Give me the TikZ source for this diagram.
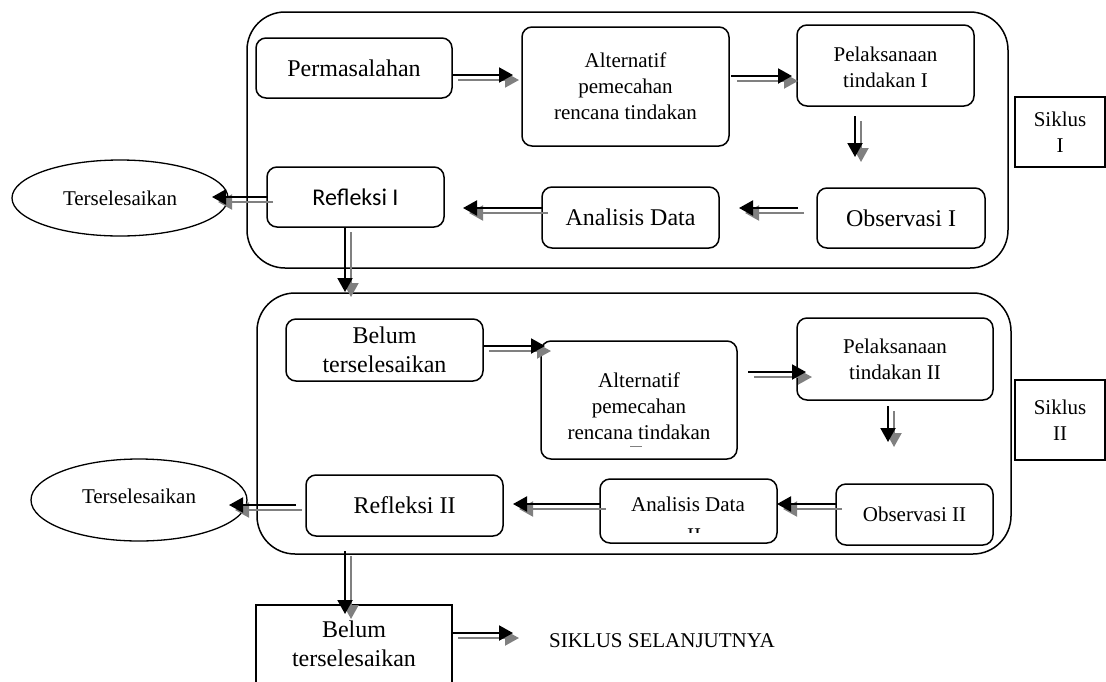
\documentclass[tikz,border=0pt]{standalone}
\usepackage{fontspec}
\setmainfont{Liberation Serif}
\newfontfamily\carl{Carlito}
\usetikzlibrary{arrows.meta,shapes.geometric}
\definecolor{shgray}{RGB}{128,128,128}
\newcommand{\dblarrow}[2]{%
  \draw[shd] ([shift={(6,5)}]#1) -- ([shift={(6,5)}]#2);
  \draw[blk] (#1) -- (#2);}
\begin{document}
\begin{tikzpicture}[x=1pt,y=-1pt,
  rbox/.style={draw, line width=1.5pt, rounded corners=10pt, align=center, inner sep=0pt},
  sbox/.style={draw, line width=1.4pt, align=center, inner sep=0pt},
  frm/.style={draw, line width=1.5pt, rounded corners=38pt},
  oval/.style={ellipse, draw, line width=1.3pt, inner sep=0pt},
  big/.style={font=\fontsize{24}{29}\selectfont},
  med/.style={font=\fontsize{21}{26}\selectfont},
  blk/.style={line width=2pt, -{Triangle[length=14pt,width=15pt]}},
  shd/.style={draw=shgray, line width=2pt, -{Triangle[length=14pt,width=15pt]}}]
\useasboundingbox (0,0) rectangle (1106,681);

% frames
\draw[frm] (247,12) rectangle (1008,268);
\draw[frm] (257,293) rectangle (1011,554);

% cycle I
\node[rbox,big,minimum width=196pt,minimum height=60pt] (perm) at (354,68) {Permasalahan};
\node[rbox,med,minimum width=207pt,minimum height=119pt] (alt1) at (625.5,86.5) {Alternatif\\pemecahan\\rencana tindakan};
\node[rbox,minimum width=177pt,minimum height=81pt] (pel1) at (885.5,65.5) {};
\node[med,align=center] (pel1t) at (885.5,67.5) {Pelaksanaan\\tindakan I};
\node[sbox,med,minimum width=90pt,minimum height=70pt] (sik1) at (1060,132) {Siklus\\I};
\node[rbox,big,minimum width=168pt,minimum height=60pt] (obs1) at (901,218) {Observasi I};
\node[rbox,big,minimum width=177pt,minimum height=61pt] (ana1) at (630.5,217.5) {Analisis Data};
\node[rbox,font=\carl\fontsize{24}{29}\selectfont,minimum width=177pt,minimum height=60pt] (ref1) at (355.5,197) {Refleksi I};
\node[oval,med,minimum width=216pt,minimum height=76pt] (ters1) at (120,198) {Terselesaikan};

% cycle II
\node[rbox,big,minimum width=197pt,minimum height=62pt] (bel1) at (384.5,350) {Belum\\terselesaikan};
\node[rbox,minimum width=196pt,minimum height=118pt] (alt2) at (639,400) {};
\node[med,align=center] (alt2t) at (639,406) {Alternatif\\pemecahan\\rencana tindakan};
\draw[shgray,line width=1pt] (630,446) -- (642,446);
\node[rbox,med,minimum width=196pt,minimum height=82pt] (pel2) at (895,359) {Pelaksanaan\\tindakan II};
\node[sbox,med,minimum width=90pt,minimum height=80pt] (sik2) at (1060,420) {Siklus\\II};
\node[rbox,med,minimum width=157pt,minimum height=61pt] (obs2) at (914.5,514.5) {Observasi II};
\node[rbox,minimum width=177pt,minimum height=64pt] (ana2) at (688.5,511) {};
\node[med] (ana2t) at (688,504) {Analisis Data};
\begin{scope}
  \clip (600,479) rectangle (777,532);
  \node[med,anchor=base] (ana2n) at (694,542) {II};
\end{scope}
\node[rbox,big,minimum width=197pt,minimum height=61pt] (ref2) at (404.5,505.5) {Refleksi II};
\node[oval,minimum width=216pt,minimum height=82pt] (ters2) at (139,500) {};
\node[med] (ters2t) at (139,496) {Terselesaikan};

% after
\node[sbox,minimum width=196pt,minimum height=95pt] (bel2) at (354,652.5) {};
\node[big,align=center] (bel2t) at (354,644) {Belum\\terselesaikan};
\node[med] (next) at (662,641) {SIKLUS SELANJUTNYA};

% arrow end points
\coordinate (a1s) at (452,75);  \coordinate (a1e) at (513,75);
\coordinate (a2s) at (731,76);  \coordinate (a2e) at (792,76);
\coordinate (a3s) at (855,116); \coordinate (a3e) at (855,157);
\coordinate (a4s) at (798,208); \coordinate (a4e) at (739,208);
\coordinate (a5s) at (542,208); \coordinate (a5e) at (463,208);
\coordinate (a6s) at (267,197); \coordinate (a6e) at (212,197);
\coordinate (a7s) at (345,227); \coordinate (a7e) at (345,292);
\coordinate (a8s) at (483,346); \coordinate (a8e) at (545,346);
\coordinate (a9s) at (748,372); \coordinate (a9e) at (806,372);
\coordinate (b1s) at (888,406); \coordinate (b1e) at (888,442);
\coordinate (b2s) at (836,504); \coordinate (b2e) at (777,504);
\coordinate (b3s) at (600,504); \coordinate (b3e) at (513,504);
\coordinate (b4s) at (296,505); \coordinate (b4e) at (229,505);
\coordinate (b5s) at (345,551); \coordinate (b5e) at (345,614);
\coordinate (b6s) at (452,633); \coordinate (b6e) at (513,633);

\dblarrow{a1s}{a1e}
\dblarrow{a2s}{a2e}
\dblarrow{a3s}{a3e}
\dblarrow{a4s}{a4e}
\dblarrow{a5s}{a5e}
\dblarrow{a6s}{a6e}
\dblarrow{a7s}{a7e}
\dblarrow{a8s}{a8e}
\dblarrow{a9s}{a9e}
\dblarrow{b1s}{b1e}
\dblarrow{b2s}{b2e}
\dblarrow{b3s}{b3e}
\dblarrow{b4s}{b4e}
\dblarrow{b5s}{b5e}
\dblarrow{b6s}{b6e}
\end{tikzpicture}
\end{document}
